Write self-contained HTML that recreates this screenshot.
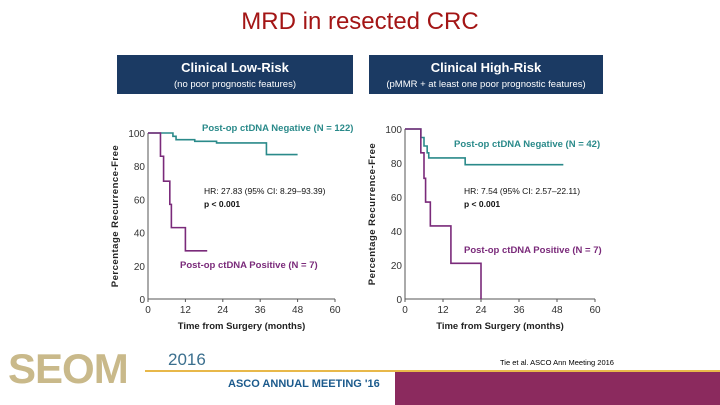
<!DOCTYPE html>
<html><head><meta charset="utf-8"><style>
body{margin:0;width:720px;height:405px;overflow:hidden;background:#fff;font-family:"Liberation Sans",sans-serif;position:relative}
.hdr{position:absolute;background:#1b3a63;color:#fff;text-align:center}
.hdr b{display:block;font-size:13px;margin-top:5px}
.hdr span{display:block;font-size:9.5px;margin-top:4px}
</style></head><body>
<div style="position:absolute;left:0;width:720px;top:8px;text-align:center;font-size:24px;color:#a31515">MRD in resected CRC</div>
<div class="hdr" style="left:117px;top:55px;width:236px;height:39px"><b>Clinical Low-Risk</b><span>(no poor prognostic features)</span></div>
<div class="hdr" style="left:369px;top:55px;width:234px;height:39px"><b>Clinical High-Risk</b><span>(pMMR + at least one poor prognostic features)</span></div>
<svg id="s" width="720" height="405" style="position:absolute;left:0;top:0"></svg>
<div style="position:absolute;left:395px;top:372px;width:325px;height:33px;background:#8b2a5e"></div>
<div style="position:absolute;left:145px;top:370px;width:575px;height:2px;background:#e8b84a"></div>
<div style="position:absolute;left:8px;top:345px;font-size:42px;font-weight:bold;color:#c9b98a;letter-spacing:-1px">SEOM</div>
<div style="position:absolute;left:168px;top:350px;font-size:17px;color:#3b6f8e">2016</div>
<div style="position:absolute;left:228px;top:378px;font-size:11px;font-weight:bold;color:#1b5a8c">ASCO ANNUAL MEETING '16</div>
<div style="position:absolute;left:500px;top:358px;font-size:7.5px;color:#000">Tie et al. ASCO Ann Meeting 2016</div>
<script>
const xTicks=[0,12,24,36,48,60];
const yTicks=[0,20,40,60,80,100];
const lowNegT=[0,4,8,9,15,22,38,48];
const lowNegS=[100,100,98,96,95,94,87,87];
const lowPosT=[0,4,5,7,7.5,12,19];
const lowPosS=[100,86,71,57,43,29,29];
const highNegT=[0,5,6,7,7.5,8,19,50];
const highNegS=[100,95,90,86,83,83,79,79];
const highPosT=[0,5,6,6.5,8,14.5,24];
const highPosS=[100,86,71,57,43,21,0];
const NS="http://www.w3.org/2000/svg",svg=document.getElementById('s');
function mk(t,a,txt){const e=document.createElementNS(NS,t);for(const k in a)e.setAttribute(k,a[k]);if(txt!=null)e.textContent=txt;svg.appendChild(e);return e;}
function chart(p,neg,pos,labels){
 const sx=v=>p.x0+(v/60)*(p.x1-p.x0), sy=v=>p.y0-(v/100)*(p.y0-p.y1);
 let a=mk('line',{x1:p.x0,y1:sy(0),x2:p.x1,y2:sy(0),stroke:'#555'});
 a=mk('line',{x1:p.x0,y1:sy(0),x2:p.x0,y2:sy(100),stroke:'#555'});
 xTicks.forEach(t=>{let e=mk('text',{x:sx(t),y:sy(0)+14,'font-size':10,'text-anchor':'middle',fill:'#333'},t);mk('line',{x1:sx(t),x2:sx(t),y1:sy(0),y2:sy(0)+3,stroke:'#555'});});
 yTicks.forEach(t=>{let e=mk('text',{x:p.x0-3,y:sy(t)+4,'font-size':10,'text-anchor':'end',fill:'#333'},t);});
 let yt=mk('text',{x:0,y:0,'font-size':9.5,'font-weight':'bold','text-anchor':'middle',fill:'#222',transform:`translate(${p.x0-30},${(sy(0)+sy(100))/2}) rotate(-90)`,'letter-spacing':'0.5'},'Percentage Recurrence-Free');
 
 let xt=mk('text',{x:(p.x0+p.x1)/2,y:sy(0)+30,'font-size':9.5,'font-weight':'bold','text-anchor':'middle',fill:'#222'},'Time from Surgery (months)');
 
 [[neg,'#2a8a8a','negative'],[pos,'#7a2a7a','positive']].forEach(([s,c,n])=>{
  let d='M'+sx(s[0][0])+','+sy(s[1][0]);
  for(let i=1;i<s[0].length;i++){d+='H'+sx(s[0][i])+'V'+sy(s[1][i]);}
  let e=mk('path',{d,fill:'none',stroke:c,'stroke-width':1.6});
 });
 labels.forEach(l=>{let e=mk('text',{x:l[0],y:l[1],'font-size':9.5,'font-weight':'bold',fill:l[3]},l[2]);});
 let h=mk('text',{x:p.hx,y:p.hy,'font-size':8.5,fill:'#111'},p.hr);
 let pv=mk('text',{x:p.hx,y:p.hy+13,'font-size':8.5,'font-weight':'bold',fill:'#111'},'p < 0.001');
}
chart({x0:148,x1:335,y0:299,y1:133,hx:204,hy:194,hr:'HR: 27.83 (95% CI: 8.29–93.39)'},[lowNegT,lowNegS],[lowPosT,lowPosS],
 [[202,131,'Post-op ctDNA Negative (N = 122)','#2a8a8a'],[180,268,'Post-op ctDNA Positive (N = 7)','#7a2a7a']]);
chart({x0:405,x1:595,y0:299,y1:129,hx:464,hy:194,hr:'HR: 7.54 (95% CI: 2.57–22.11)'},[highNegT,highNegS],[highPosT,highPosS],
 [[454,147,'Post-op ctDNA Negative (N = 42)','#2a8a8a'],[464,253,'Post-op ctDNA Positive (N = 7)','#7a2a7a']]);
</script>
</body></html>
